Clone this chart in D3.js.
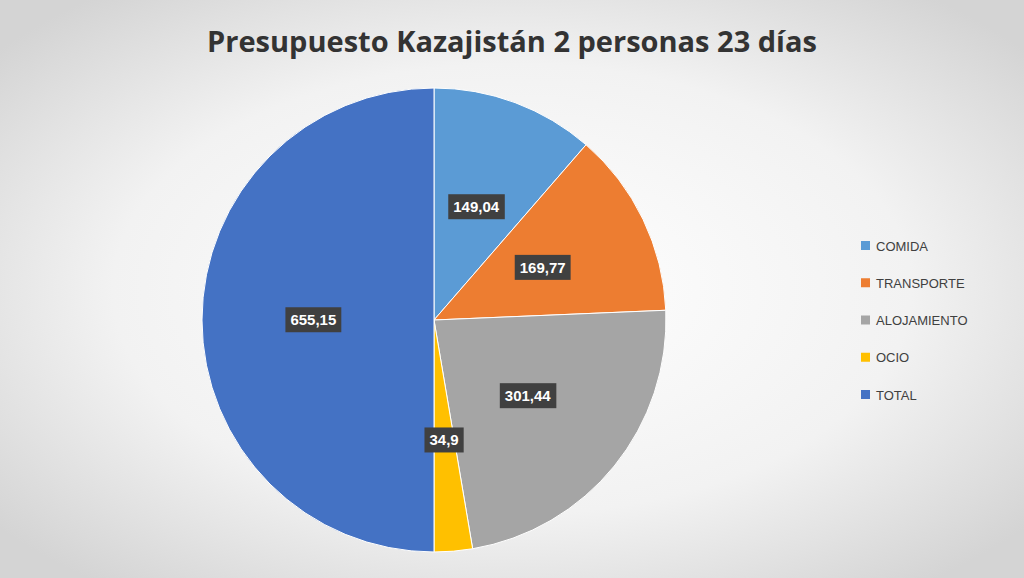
<!DOCTYPE html>
<html>
<head>
<meta charset="utf-8">
<script src="https://cdn.jsdelivr.net/npm/d3@7"></script>
<style>
  body { margin: 0; }
  svg { display: block; }
</style>
</head>
<body>
<script>
  // data
  const categories = ["COMIDA", "TRANSPORTE", "ALOJAMIENTO", "OCIO", "TOTAL"];
  const values = [149.04, 169.77, 301.44, 34.9, 655.15];
  const labels = ["149,04", "169,77", "301,44", "34,9", "655,15"];
  const colors = ["#5b9bd5", "#ed7d31", "#a5a5a5", "#ffc000", "#4472c4"];

  const W = 1024, H = 578;
  const svg = d3.select("body").append("svg").attr("width", W).attr("height", H);

  const grad = svg.append("defs").append("radialGradient")
      .attr("id", "bg").attr("cx", "50%").attr("cy", "50%").attr("r", "65%");
  grad.append("stop").attr("offset", "0%").attr("stop-color", "#ffffff");
  grad.append("stop").attr("offset", "60%").attr("stop-color", "#f2f2f2");
  grad.append("stop").attr("offset", "100%").attr("stop-color", "#d4d4d4");
  svg.append("rect").attr("width", W).attr("height", H).attr("fill", "url(#bg)");

  svg.append("text")
      .attr("x", 512).attr("y", 52)
      .attr("text-anchor", "middle")
      .attr("font-family", "'Open Sans', sans-serif")
      .attr("font-weight", "bold")
      .attr("font-size", 29)
      .attr("fill", "#333")
      .text("Presupuesto Kazajistán 2 personas 23 días");

  const cx = 434, cy = 320, R = 232;
  const pie = d3.pie().sort(null).value(d => d)(values);
  const arc = d3.arc().innerRadius(0).outerRadius(R);
  const labelArc = d3.arc().innerRadius(R * 0.52).outerRadius(R * 0.52);

  const g = svg.append("g").attr("transform", `translate(${cx},${cy})`);
  g.selectAll("path").data(pie).join("path")
      .attr("d", arc)
      .attr("fill", (d, i) => colors[i])
      .attr("stroke", "#fff").attr("stroke-width", 1);

  const lab = g.selectAll("g.lab").data(pie).join("g")
      .attr("class", "lab")
      .attr("transform", d => `translate(${labelArc.centroid(d)})`);
  lab.each(function(d, i) {
    const sel = d3.select(this);
    const t = sel.append("text")
        .attr("text-anchor", "middle").attr("dy", "0.35em")
        .attr("font-family", "'Liberation Sans', Arial, sans-serif")
        .attr("font-weight", "bold").attr("font-size", 15)
        .attr("fill", "#fff").text(labels[i]);
    const bb = t.node().getBBox();
    sel.insert("rect", "text")
        .attr("x", bb.x - 5).attr("y", bb.y - 4)
        .attr("width", bb.width + 10).attr("height", bb.height + 8)
        .attr("fill", "#404040");
  });

  const legend = svg.append("g");
  const y = d3.scalePoint().domain(categories).range([246, 395]);
  const item = legend.selectAll("g").data(categories).join("g")
      .attr("transform", d => `translate(861,${y(d)})`);
  item.append("rect").attr("x", 0).attr("y", -5).attr("width", 9).attr("height", 9)
      .attr("fill", (d, i) => colors[i]);
  item.append("text").attr("x", 15).attr("dy", "0.35em")
      .attr("font-family", "'Liberation Sans', Arial, sans-serif")
      .attr("font-size", 13).attr("fill", "#404040").text(d => d);
</script>
</body>
</html>
